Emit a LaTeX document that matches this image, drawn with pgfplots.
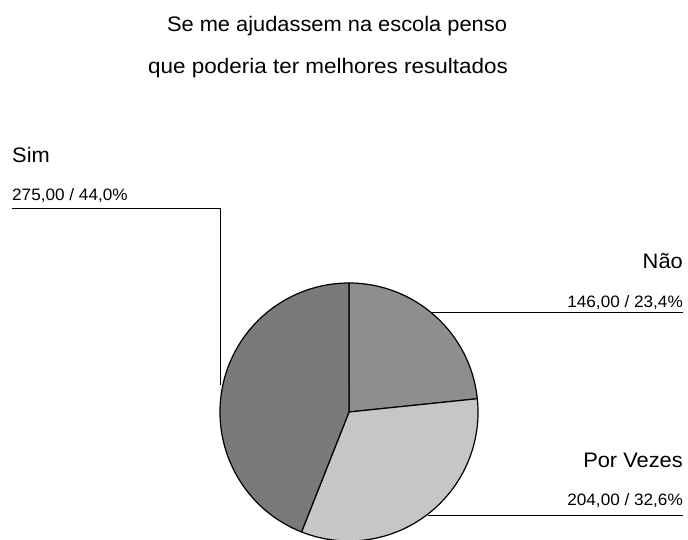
\documentclass[border=0pt]{standalone}
\usepackage{pgfplots}
\pgfplotsset{compat=1.18}
\usepackage{pgfplotstable}
\usepackage{fontspec}
\setmainfont{Liberation Sans}
\newfontfamily\labfont[FakeStretch=1.04]{Liberation Sans}
\newfontfamily\widefont[FakeStretch=1.07]{Liberation Sans}
\definecolor{simc}{RGB}{122,122,122}
\definecolor{naoc}{RGB}{142,142,142}
\definecolor{pvc}{RGB}{198,198,198}

\pgfplotstableread{
label value
Nao 146
PorVezes 204
Sim 275
}\piedata

\begin{document}%
\begin{tikzpicture}
\pgfplotstablegetelem{0}{value}\of\piedata \let\va\pgfplotsretval
\pgfplotstablegetelem{1}{value}\of\piedata \let\vb\pgfplotsretval
\pgfplotstablegetelem{2}{value}\of\piedata \let\vc\pgfplotsretval
\pgfmathsetmacro\tot{\va+\vb+\vc}
\pgfmathsetmacro\aA{90}
\pgfmathsetmacro\aB{\aA-360*(\va/\tot)}
\pgfmathsetmacro\aC{\aB-360*(\vb/\tot)}
\pgfmathsetmacro\aD{\aC-360*(\vc/\tot)}
\begin{axis}[
  at={(0,0)}, anchor=origin,
  x=1pt, y=1pt,
  xmin=0, xmax=688, ymin=0, ymax=539,
  hide axis, axis lines=none, ticks=none,
  clip=true,
]
% slices
\filldraw[fill=naoc, draw=black, line width=1.2pt, line join=round]
  (axis cs:349,127) -- ++(\aA:129pt) arc[start angle=\aA, end angle=\aB, radius=129pt] -- cycle;
\filldraw[fill=pvc, draw=black, line width=1.2pt, line join=round]
  (axis cs:349,127) -- ++(\aB:129pt) arc[start angle=\aB, end angle=\aC, radius=129pt] -- cycle;
\filldraw[fill=simc, draw=black, line width=1.2pt, line join=round]
  (axis cs:349,127) -- ++(\aC:129pt) arc[start angle=\aC, end angle=\aD, radius=129pt] -- cycle;
% leader lines
\draw[black, line width=1pt] (axis cs:12,330) -- (axis cs:220,330) -- (axis cs:220,154);
\draw[black, line width=1pt] (axis cs:431,227) -- (axis cs:683,227);
\draw[black, line width=1pt] (axis cs:428,24) -- (axis cs:683,24);
% title
\node[anchor=base, inner sep=0pt, font=\labfont\fontsize{21}{25}\selectfont] at (axis cs:337,507) {Se me ajudassem na escola penso};
\node[anchor=base, inner sep=0pt, font=\widefont\fontsize{21}{25}\selectfont] at (axis cs:328,465) {que poderia ter melhores resultados};
% labels
\node[anchor=base west, inner sep=0pt, font=\labfont\fontsize{21}{25}\selectfont] at (axis cs:12,376) {Sim};
\node[anchor=base west, inner sep=0pt, font=\labfont\fontsize{16.5}{20}\selectfont] at (axis cs:12,338) {275,00 / 44,0\%};
\node[anchor=base east, inner sep=0pt, font=\labfont\fontsize{21}{25}\selectfont] at (axis cs:683,271) {Não};
\node[anchor=base east, inner sep=0pt, font=\labfont\fontsize{16.5}{20}\selectfont] at (axis cs:683,232) {146,00 / 23,4\%};
\node[anchor=base east, inner sep=0pt, font=\labfont\fontsize{21}{25}\selectfont] at (axis cs:683,72) {Por Vezes};
\node[anchor=base east, inner sep=0pt, font=\labfont\fontsize{16.5}{20}\selectfont] at (axis cs:683,34) {204,00 / 32,6\%};
\end{axis}
\pgfresetboundingbox
\useasboundingbox (0,0) rectangle (688pt,539pt);
\end{tikzpicture}%
\end{document}
